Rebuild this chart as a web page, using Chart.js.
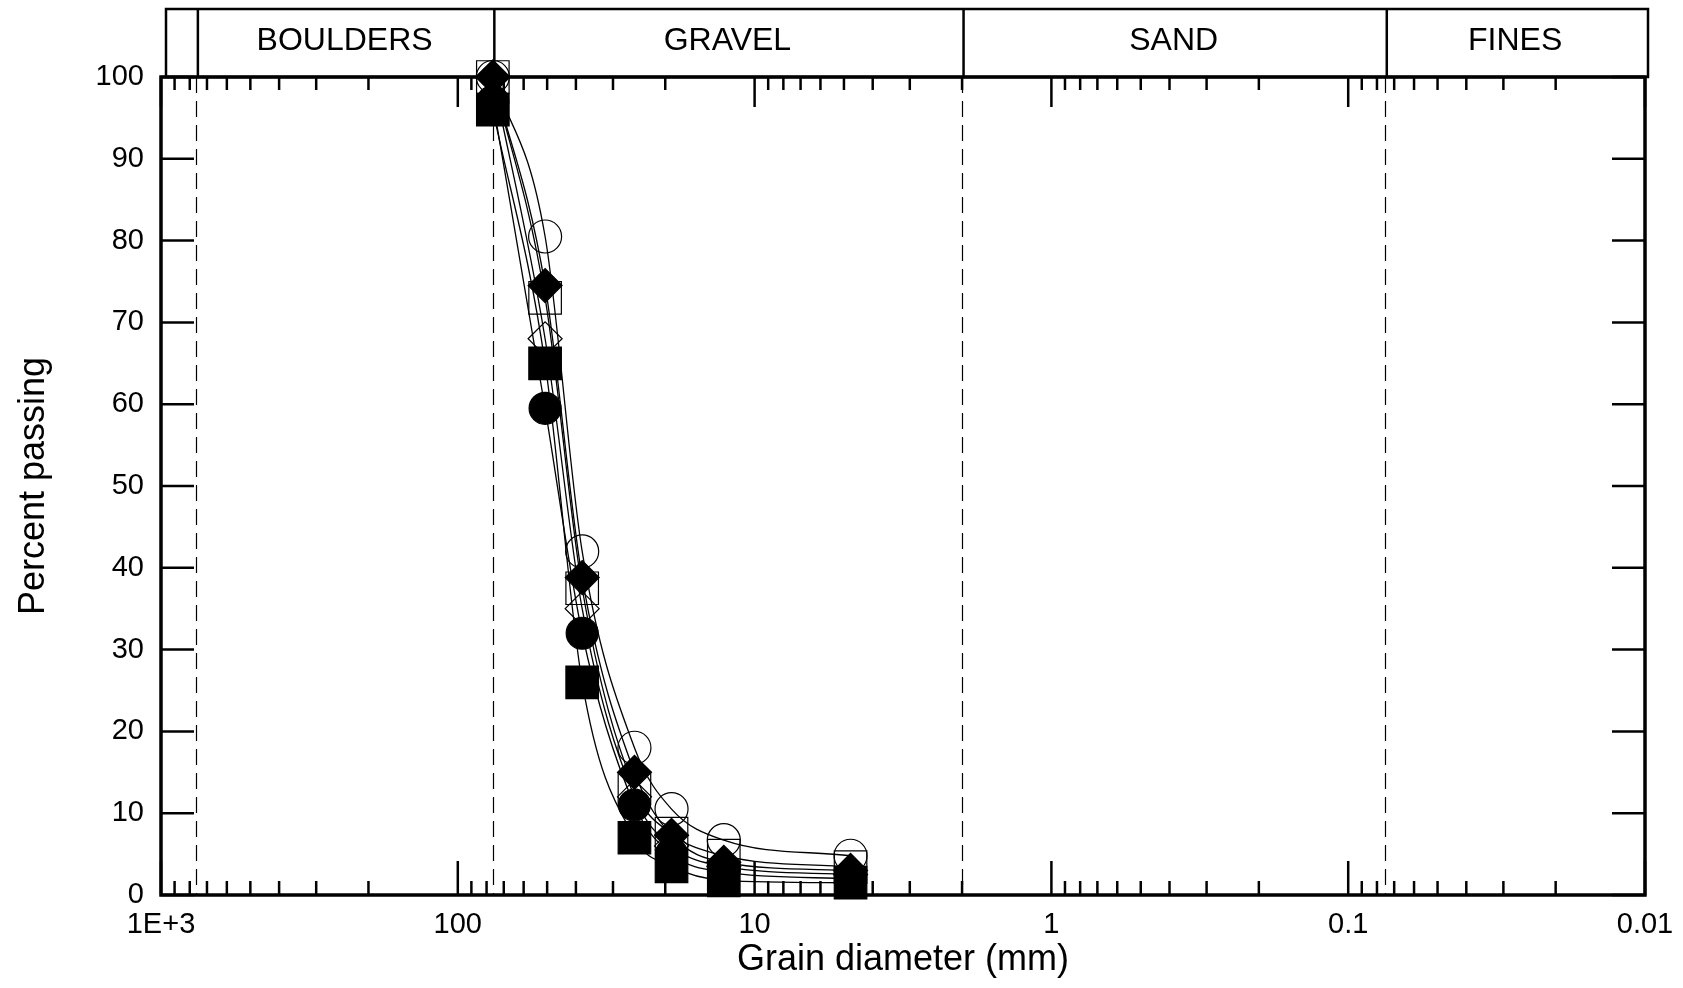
<!DOCTYPE html>
<html>
<head>
<meta charset="utf-8">
<script src="https://cdn.jsdelivr.net/npm/chart.js@4.4.0/dist/chart.umd.min.js"></script>
<style>
  html, body { margin: 0; padding: 0; background: #fff; }
  #wrap { width: 1683px; height: 988px; }
</style>
</head>
<body>
<div id="wrap"><canvas id="grading" width="1683" height="988"></canvas></div>
<script>
// ---- data ----
const sieveSizes = [76.2, 50.8, 38.1, 25.4, 19.05, 12.7, 4.75]; // mm

const filledSquare  = [96, 65, 26, 7, 3.5, 1.8, 1.5];
const filledCircle  = [97, 59.5, 32, 11, 5, 2.8, 2];
const filledDiamond = [100, 74.5, 38.8, 15, 7.3, 4, 3];
const openDiamond   = [100, 68, 35, 12, 6, 3.5, 2.5];
const openSquare    = [100, 73, 37.5, 13, 7.5, 4.8, 3.4];
const openCircle    = [100, 80.5, 42, 18, 10.5, 6.7, 4.8];

const xTickValues = [1000, 100, 10, 1, 0.1, 0.01];
const xTickLabels = ["1E+3", "100", "10", "1", "0.1", "0.01"];
const minorMultiples = [2, 3, 4, 5, 6, 7, 8, 9];
const yTickValues = [0, 10, 20, 30, 40, 50, 60, 70, 80, 90, 100];

// soil classes across the top band
const bandEdges = [1000, 760, 76.2, 2, 0.075, 0.01];
const bandLabels = ["", "BOULDERS", "GRAVEL", "SAND", "FINES"];

const FONT = "'Liberation Sans', Arial, Helvetica, sans-serif";

function pts(ys) {
  return ys.map((v, i) => ({ x: sieveSizes[i], y: v }));
}

function series(label, ys, style, radius, filled) {
  return {
    label,
    data: pts(ys),
    borderColor: "#000",
    borderWidth: 1.3,
    cubicInterpolationMode: "monotone",
    pointStyle: style,
    pointRadius: radius,
    pointBackgroundColor: filled ? "#000" : "rgba(0,0,0,0)",
    pointBorderColor: "#000",
    pointBorderWidth: 1.2,
    fill: false,
    clip: false
  };
}

function strokeLine(ctx, x1, y1, x2, y2) {
  ctx.beginPath();
  ctx.moveTo(x1, y1);
  ctx.lineTo(x2, y2);
  ctx.stroke();
}

const framePlugin = {
  id: "frame",
  beforeDatasetsDraw(chart) {
    const { ctx, chartArea: a, scales: { x, y } } = chart;
    ctx.save();
    ctx.strokeStyle = "#000";

    // dashed class boundaries
    ctx.lineWidth = 1.2;
    ctx.setLineDash([16, 8]);
    bandEdges.slice(1, -1).forEach(v => {
      const px = Math.round(x.getPixelForValue(v)) + 0.5;
      strokeLine(ctx, px, a.top, px, a.bottom);
    });
    ctx.setLineDash([]);

    // x ticks, top and bottom, pointing inward
    ctx.lineWidth = 2.5;
    xTickValues.slice(0, -1).forEach(dec => {
      const base = dec / 10;
      minorMultiples.forEach(m => {
        const px = x.getPixelForValue(base * m);
        strokeLine(ctx, px, a.bottom, px, a.bottom - 14);
        strokeLine(ctx, px, a.top, px, a.top + 13);
      });
    });
    xTickValues.forEach(v => {
      const px = x.getPixelForValue(v);
      strokeLine(ctx, px, a.bottom, px, a.bottom - 34);
      strokeLine(ctx, px, a.top, px, a.top + 30);
    });

    // y ticks, both sides
    yTickValues.forEach(v => {
      const py = y.getPixelForValue(v);
      strokeLine(ctx, a.left, py, a.left + 33, py);
      strokeLine(ctx, a.right, py, a.right - 33, py);
    });

    // plot frame
    ctx.lineWidth = 3.5;
    ctx.strokeRect(a.left, a.top, a.right - a.left, a.bottom - a.top);

    // classification band
    const bandTop = 9;
    ctx.lineWidth = 2.5;
    ctx.strokeRect(a.left + 5, bandTop, a.right - a.left - 2, a.top - bandTop);
    ctx.font = "32px " + FONT;
    ctx.fillStyle = "#000";
    ctx.textAlign = "center";
    ctx.textBaseline = "middle";
    bandEdges.forEach((v, i) => {
      if (i === 0 || i === bandEdges.length - 1) return;
      const px = x.getPixelForValue(v) + 1.5;
      strokeLine(ctx, px, bandTop, px, a.top);
    });
    bandLabels.forEach((lab, i) => {
      if (!lab) return;
      const l = x.getPixelForValue(bandEdges[i]);
      const r = x.getPixelForValue(bandEdges[i + 1]);
      ctx.fillText(lab, (l + r) / 2, (bandTop + a.top) / 2 - 2);
    });
    ctx.restore();
  }
};

new Chart(document.getElementById("grading"), {
  type: "line",
  data: {
    datasets: [
      series("Filled square", filledSquare, "rect", 23, true),
      series("Filled circle", filledCircle, "circle", 16, true),
      series("Filled diamond", filledDiamond, "rectRot", 17, true),
      series("Open diamond", openDiamond, "rectRot", 17, false),
      series("Open square", openSquare, "rect", 23, false),
      series("Open circle", openCircle, "circle", 16.5, false)
    ]
  },
  options: {
    responsive: false,
    animation: false,
    devicePixelRatio: 1,
    layout: { padding: { top: 77, right: 38, left: 0, bottom: 0 } },
    plugins: {
      legend: { display: false },
      tooltip: { enabled: false }
    },
    scales: {
      x: {
        type: "logarithmic",
        reverse: true,
        min: 0.01,
        max: 1000,
        grid: { display: false, drawTicks: false },
        border: { display: false },
        afterBuildTicks: scale => {
          scale.ticks = xTickValues.map(v => ({ value: v, major: true }));
        },
        afterFit: scale => {
          scale.height = 93;
          scale.paddingLeft = 0;
          scale.paddingRight = 0;
        },
        ticks: {
          autoSkip: false,
          maxRotation: 0,
          padding: 13,
          color: "#000",
          font: { family: FONT, size: 29 },
          callback: (value, index) => xTickLabels[index]
        },
        title: {
          display: true,
          text: "Grain diameter (mm)",
          color: "#000",
          font: { family: FONT, size: 36 },
          padding: { top: 0, bottom: 6 }
        }
      },
      y: {
        type: "linear",
        min: 0,
        max: 100,
        grid: { display: false, drawTicks: false },
        border: { display: false },
        afterBuildTicks: scale => {
          scale.ticks = yTickValues.map(v => ({ value: v }));
        },
        afterFit: scale => {
          scale.width = 161;
          scale.paddingTop = 0;
          scale.paddingBottom = 0;
        },
        ticks: {
          padding: 17,
          color: "#000",
          font: { family: FONT, size: 29 }
        },
        title: {
          display: true,
          text: "Percent passing",
          color: "#000",
          font: { family: FONT, size: 36 },
          padding: { top: 12, bottom: 0 }
        }
      }
    }
  },
  plugins: [framePlugin]
});
</script>
</body>
</html>
